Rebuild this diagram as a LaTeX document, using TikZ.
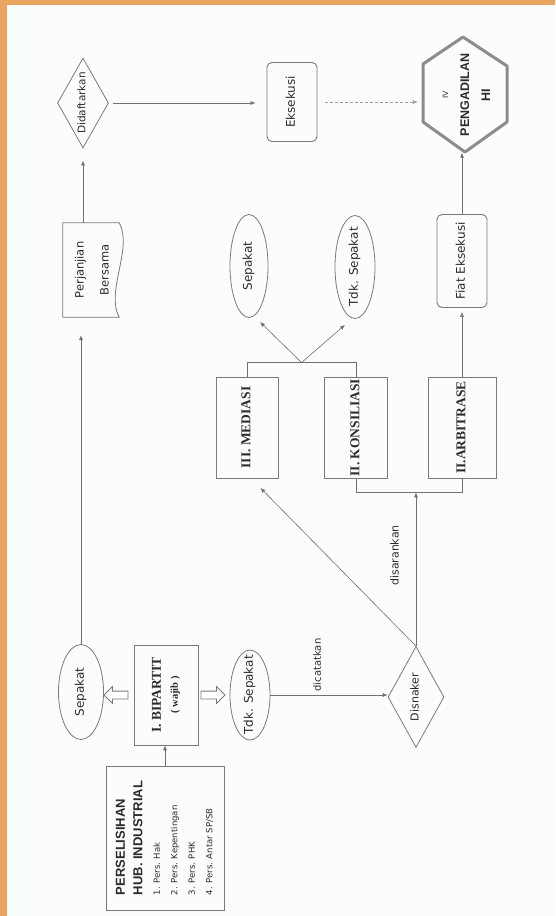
\documentclass[tikz,border=0pt]{standalone}
\usepackage{fontspec}
\setmainfont{Liberation Serif}
\newfontfamily\lab{DejaVu Sans}
\newfontfamily\hdr{Liberation Sans}
\usetikzlibrary{shapes.geometric,shapes.arrows,arrows.meta,calc}
\definecolor{orng}{HTML}{E9A560}
\definecolor{bgc}{HTML}{FBFCFD}
\definecolor{linec}{HTML}{707070}
\definecolor{boxc}{HTML}{7A7A7A}
\definecolor{hexc}{HTML}{8C8C8C}
\definecolor{txt}{HTML}{2B2B2B}
\newcommand\R[2][c]{\makebox[0pt]{\raisebox{-.5\height}[0pt][0pt]{\rotatebox{90}{\begin{tabular}{@{}#1@{}}#2\end{tabular}}}}}
\newcommand\itf{\lab\fontsize{8.5}{17.5}\selectfont}
\begin{document}
\begin{tikzpicture}[x=1pt,y=-1pt,
  conn/.style={draw=linec, line width=0.6pt},
  arr/.style={conn, -{Latex[length=5pt,width=4pt]}},
  box/.style={draw=boxc, line width=0.9pt, rectangle, inner sep=0pt, text=txt},
  rbox/.style={box, rounded corners=5pt, font=\lab\fontsize{12}{14}\selectfont},
  ell/.style={draw=boxc, line width=0.8pt, ellipse, inner sep=0pt, text=txt, font=\lab\fontsize{12}{14}\selectfont},
  dia/.style={draw=boxc, line width=0.8pt, diamond, inner sep=0pt, text=txt, font=\lab\fontsize{10.5}{12}\selectfont},
  bfl/.style={font=\fontsize{13.5}{17}\selectfont\bfseries},
  lbl/.style={text=txt, inner sep=0pt},
  harr/.style={single arrow, draw=boxc, line width=0.8pt, fill=white, inner sep=3.5pt, minimum height=24pt, single arrow head extend=4.5pt}
]
\fill[orng] (0,0) rectangle (555,916);
\fill[bgc] (7,5) rectangle (555,916);
\useasboundingbox (0,0) rectangle (555,916);

% left column
\node[box, minimum width=118pt, minimum height=144pt, font=\hdr\fontsize{13}{17.5}\selectfont] (persel) at (165,838)
  {\R[l]{\textbf{PERSELISIHAN}\\ \textbf{HUB. INDUSTRIAL}\\ \itf 1. Pers. Hak\\ \itf 2. Pers. Kepentingan\\ \itf 3. Pers. PHK\\ \itf 4. Pers. Antar SP/SB}};
\node[box, bfl, minimum width=64pt, minimum height=100pt] (bip) at (166,695)
  {\R{I. BIPARTIT\\ {\fontsize{10.5}{17}\selectfont ( wajib )}}};
\node[ell, minimum width=45pt, minimum height=95pt] (sep1) at (81,692) {\R{Sepakat}};
\node[harr, shape border rotate=180] (ha1) at (118,695) {};
\node[harr] (ha2) at (211,695) {};
\node[ell, minimum width=40pt, minimum height=90pt] (tdk1) at (250,695) {\R{Tdk. Sepakat}};
\node[dia, font=\lab\fontsize{11}{13}\selectfont, minimum width=56pt, minimum height=101pt] (disn) at (416,697) {\R{Disnaker}};

% middle boxes
\node[box, bfl, minimum width=62pt, minimum height=101pt] (med) at (247,427.5) {\R{III. MEDIASI}};
\node[box, bfl, minimum width=63pt, minimum height=101pt] (kon) at (356,427.5) {\R{II. KONSILIASI}};
\node[box, bfl, minimum width=68pt, minimum height=101pt] (arb) at (462,427.5) {\R{II.ARBITRASE}};

\node[ell, minimum width=38pt, minimum height=103pt] (sep2) at (249,266) {\R{Sepakat}};
\node[ell, minimum width=40pt, minimum height=103pt] (tdk2) at (355,267) {\R{Tdk. Sepakat}};
\node[rbox, minimum width=50pt, minimum height=93pt] (fiat) at (462,261) {\R{Fiat Eksekusi}};

% top row
\node[dia, minimum width=51pt, minimum height=90pt] (daft) at (83,103) {\R{Didaftarkan}};
\node[rbox, minimum width=50pt, minimum height=79pt] (eks) at (292,102) {\R{Eksekusi}};
\node[inner sep=0pt, minimum width=84pt, minimum height=115pt, text=txt, font=\hdr\fontsize{12.5}{21}\selectfont] (hex) at (465,95)
  {\R{{\fontsize{8}{21}\selectfont IV}\\ \textbf{PENGADILAN}\\ \textbf{HI}}};
\draw[hexc, line width=3pt, line join=round] (463,37) -- (507,66) -- (507,122) -- (465,152) -- (423,122) -- (423,64) -- cycle;

\node[inner sep=0pt, minimum width=56pt, minimum height=94pt, text=txt, font=\lab\fontsize{11.5}{25}\selectfont] (perj) at (91,270)
  {\R{Perjanjian\\ Bersama}};
\draw[boxc, line width=0.8pt] (perj.north west) -- (perj.north east) .. controls +(14,25) and +(-14,-25) .. (perj.south east) -- (perj.south west) -- cycle;

% connectors
\draw[arr] (persel.north) -- (persel.north |- bip.south);
\draw[arr] (tdk1.east) -- (tdk1.east -| disn.west)
  node[lbl, pos=0.41, yshift=30pt, font=\lab\fontsize{10}{12}\selectfont] {\R{dicatatkan}};
\draw[arr, shorten >=2pt] (disn.north) -- ([xshift=12pt,yshift=-8pt]med.south);
\path (kon.south) ++(0,14) coordinate (kb);
\draw[conn] (kon.south) -- (kb) -| (arb.south);
\draw[arr] (disn.north) -- (disn.north |- kb)
  node[lbl, pos=0.59, xshift=-20pt, font=\lab\fontsize{11}{13}\selectfont] {\R{disarankan}};
\path (med.north) ++(0,-14) coordinate (mt);
\path (kon.north) ++(0,-14) coordinate (kt);
\coordinate (tm) at ($(mt)!0.5!(kt)$);
\draw[conn] (med.north) -- (mt) -- (kt) -- (kon.north);
\draw[arr] (tm) -- ([xshift=11pt,yshift=-4pt]sep2.south);
\draw[arr] (tm) -- ([xshift=-10pt,yshift=-6pt]tdk2.south);
\draw[arr, shorten >=4pt] (arb.north) -- (arb.north |- fiat.south);
\draw[arr] (fiat.north) -- (fiat.north |- hex.south);
\draw[arr, densely dashed, draw=linec!70, shorten <=8pt, shorten >=5pt] (eks.east) -- (eks.east -| hex.west);
\draw[arr, shorten <=4pt, shorten >=11pt] (daft.east) -- (daft.east -| eks.west);
\draw[arr, shorten >=12pt] (daft.south |- perj.north) -- (daft.south);
\draw[arr, shorten >=18pt] (sep1.north) -- (sep1.north |- perj.south);
\end{tikzpicture}
\end{document}
